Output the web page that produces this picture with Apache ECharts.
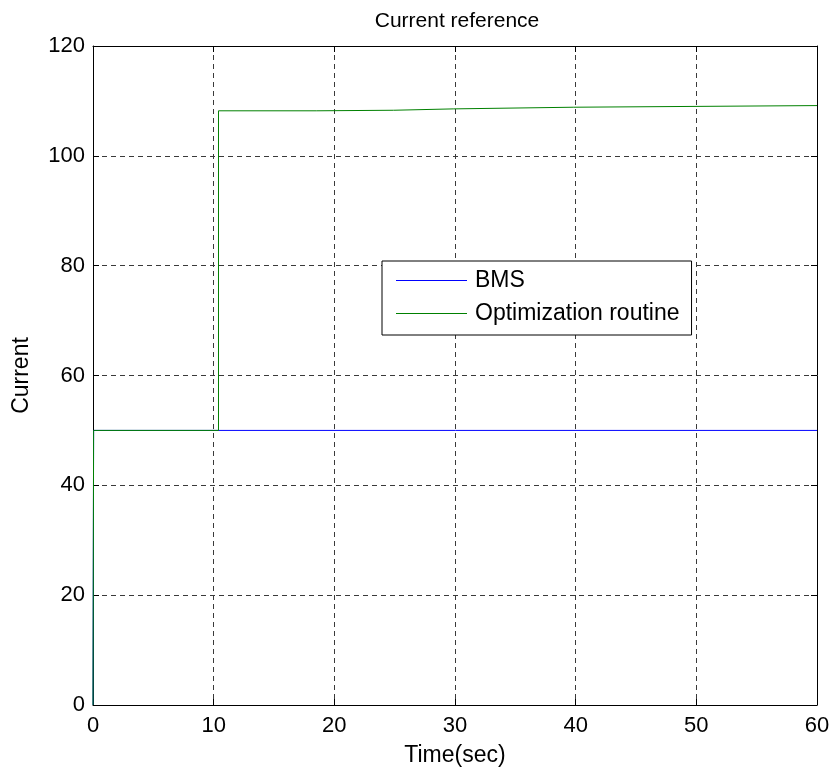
<!DOCTYPE html>
<html>
<head>
<meta charset="utf-8">
<script src="https://cdn.jsdelivr.net/npm/echarts@6/dist/echarts.min.js"></script>
<style>
  html, body { margin: 0; padding: 0; background: #fff; }
  #chart { width: 829px; height: 769px; }
</style>
</head>
<body>
<div id="chart"></div>
<script>
// Step times (s) and the current level held from each time onward
const bmsTime = [0, 0.05, 60];
const bmsCurrent = [0, 50, 50];

const optTime = [0, 0.05, 10.4, 18.5, 24.9, 29.9, 39.8, 60];
const optCurrent = [0, 50, 108.2, 108.3, 108.55, 108.85, 109.15, 109.15];

const xTicks = [0, 10, 20, 30, 40, 50, 60];
const yTicks = [0, 20, 40, 60, 80, 100, 120];

const seriesNames = ['BMS', 'Optimization routine'];
const FONT = '"Liberation Sans", Arial, sans-serif';

// Sample-and-hold: each level is held until the next switching time
function stairs(ts, vs) {
  const pts = [[ts[0], vs[0]]];
  for (let i = 1; i < ts.length; i++) {
    pts.push([ts[i], vs[i - 1]]);
    pts.push([ts[i], vs[i]]);
  }
  return pts;
}

const gridLine = { show: true, lineStyle: { color: '#3a3a3a', type: [5, 4], width: 1 } };
const frameLine = { show: true, onZero: false, lineStyle: { color: '#000', width: 1 } };
const ticksIn = { show: true, inside: true, length: 6, lineStyle: { color: '#000' } };
const label = { color: '#000', fontSize: 22, fontFamily: FONT };

const chart = echarts.init(document.getElementById('chart'));
chart.setOption({
  animation: false,
  backgroundColor: '#fff',
  title: {
    text: 'Current reference',
    left: 452, top: 6, textAlign: 'center',
    textStyle: { fontSize: 21, fontWeight: 'normal', color: '#000', fontFamily: FONT }
  },
  grid: {
    left: 93, right: 12, top: 46, bottom: 64,
    containLabel: false, outerBoundsMode: 'none'
  },
  legend: {
    orient: 'vertical',
    left: 382, top: 261,
    padding: [8, 12, 10, 14],
    itemGap: 10,
    itemWidth: 71, itemHeight: 1,
    icon: 'rect',
    backgroundColor: '#fff',
    borderColor: '#000', borderWidth: 1,
    textStyle: { fontSize: 23, color: '#000', fontFamily: FONT, padding: [0, 0, 0, 3] },
    data: seriesNames
  },
  xAxis: [{
    type: 'value', min: 0, max: 60, interval: 10,
    name: 'Time(sec)', nameLocation: 'middle', nameGap: 39,
    nameTextStyle: { fontSize: 23, color: '#000', fontFamily: FONT },
    axisLine: frameLine, axisTick: ticksIn,
    axisLabel: Object.assign({ margin: 10 }, label),
    splitLine: gridLine
  }, {
    type: 'value', min: 0, max: 60, interval: 10, position: 'top',
    axisLine: frameLine, axisTick: ticksIn,
    axisLabel: { show: false }, splitLine: { show: false }
  }],
  yAxis: [{
    type: 'value', min: 0, max: 120, interval: 20,
    name: 'Current', nameLocation: 'middle', nameGap: 60, nameRotate: 90,
    nameTextStyle: { fontSize: 23, color: '#000', fontFamily: FONT },
    axisLine: frameLine, axisTick: ticksIn,
    axisLabel: Object.assign({ margin: 8 }, label),
    splitLine: gridLine
  }, {
    type: 'value', min: 0, max: 120, interval: 20, position: 'right',
    axisLine: frameLine, axisTick: ticksIn,
    axisLabel: { show: false }, splitLine: { show: false }
  }],
  series: [{
    name: seriesNames[0],
    type: 'line', symbol: 'none',
    color: '#0000ff',
    lineStyle: { width: 1, color: '#0000ff' },
    data: stairs(bmsTime, bmsCurrent)
  }, {
    name: seriesNames[1],
    type: 'line', symbol: 'none',
    color: '#008000',
    lineStyle: { width: 1, color: '#008000' },
    data: stairs(optTime, optCurrent)
  }]
});
</script>
</body>
</html>
